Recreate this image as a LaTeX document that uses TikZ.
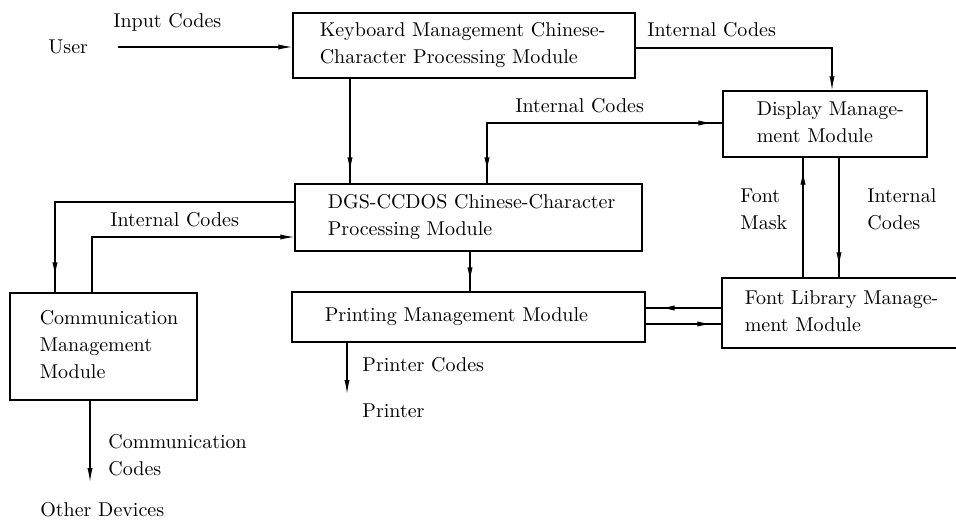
\documentclass[tikz,border=0pt]{standalone}
\usetikzlibrary{arrows.meta,decorations.markings}
\begin{document}
\begin{tikzpicture}[x=0.5pt,y=-0.5pt,
  >={Latex[length=7pt,width=2.6pt]},
  every node/.style={font=\fontsize{10}{13.5}\selectfont},
  box/.style={draw,line width=0.6pt,inner sep=0pt},
  txt/.style={align=left,inner sep=0pt,anchor=west},
  lab/.style={align=left,inner sep=0pt,anchor=west},
  ln/.style={line width=0.6pt},
  arr/.style={ln,->},
  tipend/.style={ln,postaction={decorate},
    decoration={markings,mark=at position -#1 with {\arrow{>}}}},
  twotips/.style 2 args={ln,postaction={decorate},
    decoration={markings,mark=at position #1 with {\arrowreversed{>}},
      mark=at position -#2 with {\arrow{>}}}}]
\useasboundingbox (0,0) rectangle (956,519);
\clip (0,0) rectangle (956,519);

% boxes
\node[box,minimum width=171pt,minimum height=32.5pt] (kb) at (464,45.5) {};
\node[txt] (kbt) at ([xshift=13.5pt]kb.west) {Keyboard Management Chinese-\\Character Processing Module};

\node[box,minimum width=102pt,minimum height=33pt] (disp) at (825,124) {};
\node[txt] (dispt) at ([xshift=17pt,yshift=1pt]disp.west) {Display Manage-\\ment Module};

\node[box,minimum width=173.5pt,minimum height=33.5pt] (dgs) at (468.5,217.5) {};
\node[txt] (dgst) at ([xshift=16.5pt]dgs.west) {DGS-CCDOS Chinese-Character\\Processing Module};

\node[box,minimum width=93.5pt,minimum height=53.5pt] (comm) at (103.5,346.5) {};
\node[txt] (commt) at ([xshift=15pt,yshift=1pt]comm.west) {Communication\\Management\\Module};

\node[box,minimum width=176.5pt,minimum height=25pt] (print) at (468.5,317) {};
\node[txt] (printt) at ([xshift=16.5pt]print.west) {Printing Management Module};

\node[box,minimum width=139pt,minimum height=35pt] (font) at (861,313) {};
\node[txt] (fontt) at ([xshift=11.5pt,yshift=1pt]font.west) {Font Library Manage-\\ment Module};

% labels
\node[lab] (user) at (48,47) {User};
\node[lab] (inc) at (113,22) {Input Codes};
\node[lab] (ic1) at (647,30) {Internal Codes};
\node[lab] (ic2) at (515,106) {Internal Codes};
\node[lab] (ic3) at (110,220) {Internal Codes};
\node[lab] (fm) at (740,209) {Font\\Mask};
\node[lab] (ic4) at (867,209) {Internal\\Codes};
\node[lab] (pc) at (362,365) {Printer Codes};
\node[lab] (pr) at (362,411) {Printer};
\node[lab] (cc) at (108,455) {Communication\\Codes};
\node[lab] (od) at (40,510) {Other Devices};

% connectors
\coordinate (ca) at (118,47);
\draw[arr] (ca) -- (ca -| kb.west);

\coordinate (c2) at (832,48);
\draw[arr] (c2 -| kb.east) -- (c2) -- (c2 |- disp.north);

\coordinate (x3) at (350,0);
\draw[tipend=6pt] (kb.south -| x3) -- (dgs.north -| x3);

\coordinate (c4) at (487,123);
\draw[twotips={6pt}{5pt}] (dgs.north -| c4) -- (c4) -- (c4 -| disp.west);

\coordinate (c5) at (55,202);
\draw[tipend=8pt] (c5 -| dgs.west) -- (c5) -- (c5 |- comm.north);

\coordinate (c6) at (92,237);
\draw[arr] (c6 |- comm.north) -- (c6) -- (c6 -| dgs.west);

\coordinate (x7) at (470,0);
\draw[tipend=5pt] (dgs.south -| x7) -- (print.north -| x7);

\coordinate (c8) at (347,394);
\draw[arr] (print.south -| c8) -- (c8);

\coordinate (c9) at (90,482);
\draw[arr] (comm.south -| c9) -- (c9);

\coordinate (y10) at (0,308);
\draw[tipend=7.5pt] (font.west |- y10) -- (print.east |- y10);
\coordinate (y11) at (0,324);
\draw[tipend=5pt] (print.east |- y11) -- (font.west |- y11);

\coordinate (x12) at (803,0);
\draw[tipend=6.5pt] (font.north -| x12) -- (disp.south -| x12);
\coordinate (x13) at (839,0);
\draw[tipend=5.5pt] (disp.south -| x13) -- (font.north -| x13);
\end{tikzpicture}
\end{document}
